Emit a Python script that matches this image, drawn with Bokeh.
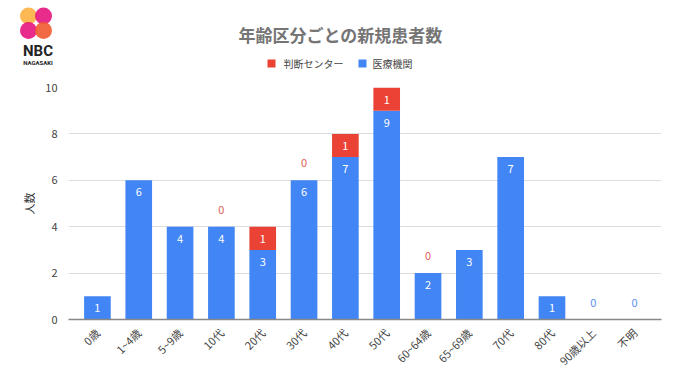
import math
from bokeh.plotting import figure
from bokeh.layouts import column
from bokeh.models import ColumnDataSource, FixedTicker, Range1d
from bokeh.core.properties import value
from bokeh.embed import file_html
from bokeh.resources import INLINE

categories = ["0歳", "1~4歳", "5~9歳", "10代", "20代", "30代", "40代", "50代",
              "60~64歳", "65~69歳", "70代", "80代", "90歳以上", "不明"]
iryo = [1, 6, 4, 4, 3, 6, 7, 9, 2, 3, 7, 1, 0, 0]          # 医療機関
handan = [None, None, None, 0, 1, 0, 1, 1, 0, None, None, None, None, None]  # 判断センター
y_ticks = [0, 2, 4, 6, 8, 10]
series_names = ["判断センター", "医療機関"]
title_text = "年齢区分ごとの新規患者数"

RED = "#ea4335"
BLUE = "#4285f4"
FONT = "Noto Sans CJK JP"

xs = list(range(len(categories)))
h_vals = [v if v is not None else 0 for v in handan]
tops = [a + b for a, b in zip(iryo, h_vals)]

# ---------------- header (logo, title, legend) ----------------
W, HH = 680, 80
hdr = figure(width=W, height=HH, output_backend="svg", toolbar_location=None,
             x_range=Range1d(0, W), y_range=Range1d(0, HH),
             x_axis_type=None, y_axis_type=None,
             min_border=0, min_border_left=0, min_border_right=0,
             min_border_top=0, min_border_bottom=0)
hdr.frame_align = False
hdr.outline_line_color = None
hdr.grid.grid_line_color = None

# logo
hdr.scatter(x=[28, 43, 28, 43], y=[64.5, 64.5, 50, 50], size=17,
            fill_color=["#fbb040", "#e6157e", "#e6157e", "#f15a30"],
            line_color=None, fill_alpha=0.9)
hdr.text(x=[37.5], y=[29.5], text=["NBC"], text_font=value("Roboto"),
         text_font_size="15px", text_font_style="bold", text_color="#222222",
         text_align="center", text_baseline="middle")
hdr.text(x=[37.5], y=[18], text=["NAGASAKI"], text_font=value("Roboto"),
         text_font_size="6px", text_font_style="bold", text_color="#222222",
         text_align="center", text_baseline="middle")

# title
hdr.text(x=[340], y=[46.5], text=[title_text], text_font=value(FONT),
         text_font_size="17px", text_font_style="bold", text_color="#757575",
         text_align="center", text_baseline="middle")

# legend
hdr.scatter(x=[271, 362], y=[17, 17], marker="square", size=8,
            fill_color=[RED, BLUE], line_color=None)
hdr.text(x=[283, 372], y=[17, 17], text=series_names, text_font=value(FONT),
         text_font_size="10px", text_color="#444444",
         text_align="left", text_baseline="middle")

# ---------------- main chart ----------------
p = figure(width=W, height=382 - HH, output_backend="svg", toolbar_location=None,
           x_range=Range1d(-0.7, len(categories) - 0.35), y_range=Range1d(0, 10),
           min_border_left=68, min_border_right=19, min_border_top=7, min_border_bottom=63)
p.frame_align = False
p.outline_line_color = None

src = ColumnDataSource(dict(x=xs, iryo=iryo, handan=h_vals, top=tops))
p.vbar(x="x", bottom=0, top="iryo", width=0.645, fill_color=BLUE, line_color=None, source=src)
p.vbar(x="x", bottom="iryo", top="top", width=0.645, fill_color=RED, line_color=None, source=src)

# labels inside bars
in_x, in_y, in_t = [], [], []
for i in xs:
    if iryo[i] > 0:
        in_x.append(i); in_y.append(iryo[i]); in_t.append(str(iryo[i]))
    if handan[i]:
        in_x.append(i); in_y.append(tops[i]); in_t.append(str(handan[i]))
p.text(x=in_x, y=in_y, text=in_t, text_color="white", text_font_size="11px",
       text_align="center", text_baseline="middle", y_offset=12, text_font=value(FONT))

# zero labels above
zr_x, zr_y, zr_t = [], [], []
zb_x, zb_y, zb_t = [], [], []
for i in xs:
    if handan[i] == 0:
        zr_x.append(i); zr_y.append(tops[i]); zr_t.append("0")
    if iryo[i] == 0:
        zb_x.append(i); zb_y.append(tops[i]); zb_t.append("0")
p.text(x=zr_x, y=zr_y, text=zr_t, text_color="#e06055", text_font_size="11px",
       text_align="center", text_baseline="middle", y_offset=-17, text_font=value(FONT))
p.text(x=zb_x, y=zb_y, text=zb_t, text_color="#5b8ff0", text_font_size="11px",
       text_align="center", text_baseline="middle", y_offset=-17, text_font=value(FONT))

# axes
p.xaxis.ticker = FixedTicker(ticks=xs)
p.xaxis.major_label_overrides = {i: c for i, c in enumerate(categories)}
p.xaxis.major_label_orientation = math.pi / 4
p.xaxis.major_tick_line_color = None
p.xaxis.minor_tick_line_color = None
p.xaxis.axis_line_color = "#888888"
p.xaxis.axis_line_width = 1.5
p.xaxis.major_label_text_font = FONT
p.xaxis.major_label_text_font_size = "11px"
p.xaxis.major_label_text_color = "#444444"
p.xgrid.grid_line_color = None

p.yaxis.ticker = FixedTicker(ticks=y_ticks)
p.yaxis.axis_line_color = None
p.yaxis.major_tick_line_color = None
p.yaxis.minor_tick_line_color = None
p.yaxis.major_label_text_font = FONT
p.yaxis.major_label_text_font_size = "11px"
p.yaxis.major_label_text_color = "#444444"
p.yaxis.axis_label = "人数"
p.yaxis.axis_label_text_font = FONT
p.yaxis.axis_label_text_font_size = "11px"
p.yaxis.axis_label_text_font_style = "normal"
p.yaxis.axis_label_text_color = "#333333"
p.ygrid.grid_line_color = "#dddddd"

layout = column(hdr, p, spacing=0)
open("out.html", "w").write(file_html(layout, INLINE))
